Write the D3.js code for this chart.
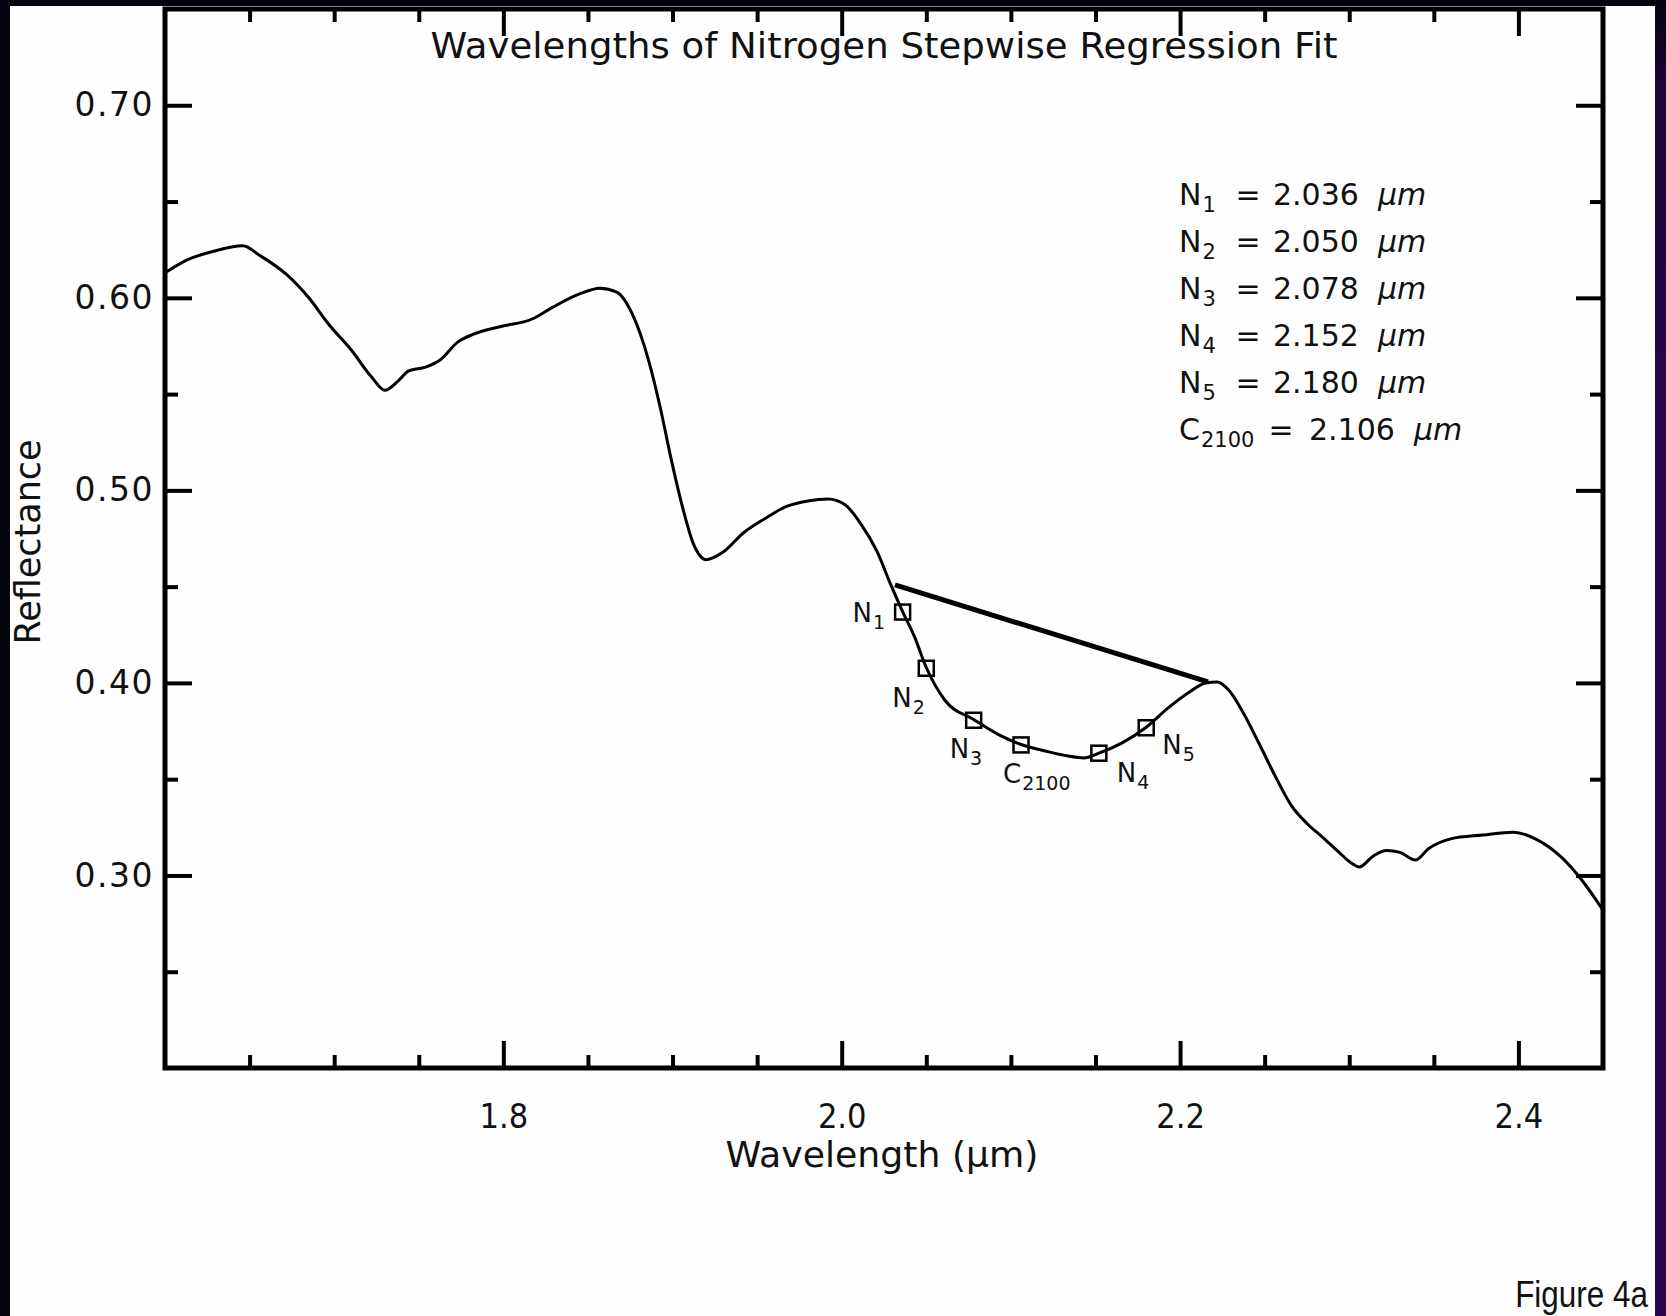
<!DOCTYPE html>
<html>
<head>
<meta charset="utf-8">
<script src="https://cdn.jsdelivr.net/npm/d3@7"></script>
<style>
    body { margin: 0; background: #04040e; }
    svg { display: block; }
    .axis path { display: none; }
    .axis line { stroke: #000; stroke-width: 4; }
    .axis text { fill: #111; }
</style>
</head>
<body>
<div id="chart"></div>
<script>
/*
 *  Spectrum
 */
const wavelength = [
    1.600, 1.6125, 1.628, 1.646, 1.656, 1.672, 1.685, 1.697, 1.710, 1.722,
    1.730, 1.738, 1.744, 1.754, 1.763, 1.773, 1.782, 1.798, 1.817, 1.829,
    1.845, 1.857, 1.867, 1.876, 1.886, 1.893, 1.899, 1.906, 1.912, 1.920,
    1.930, 1.942, 1.955, 1.967, 1.980, 1.992, 2.002, 2.011, 2.021, 2.029,
    2.036, 2.043, 2.050, 2.061, 2.078, 2.093, 2.106, 2.121, 2.134, 2.143,
    2.152, 2.166, 2.180, 2.193, 2.206, 2.215, 2.222, 2.229, 2.237, 2.247,
    2.256, 2.266, 2.275, 2.284, 2.294, 2.301, 2.306, 2.314, 2.322, 2.330,
    2.339, 2.347, 2.360, 2.379, 2.397, 2.410, 2.426, 2.438, 2.450
];
const reflectance = [
    0.613, 0.6195, 0.624, 0.627, 0.622, 0.612, 0.600, 0.586, 0.573, 0.559,
    0.552, 0.557, 0.562, 0.564, 0.568, 0.577, 0.581, 0.585, 0.589, 0.595,
    0.602, 0.605, 0.603, 0.592, 0.567, 0.542, 0.517, 0.491, 0.473, 0.464,
    0.468, 0.478, 0.4855, 0.4915, 0.4945, 0.4955, 0.4925, 0.483, 0.468, 0.451,
    0.437, 0.424, 0.408, 0.391, 0.381, 0.373, 0.368, 0.3645, 0.362, 0.361,
    0.3635, 0.369, 0.377, 0.387, 0.3955, 0.400, 0.4005, 0.396, 0.385, 0.368,
    0.352, 0.336, 0.327, 0.320, 0.312, 0.3066, 0.3044, 0.310, 0.313, 0.312,
    0.308, 0.314, 0.319, 0.321, 0.3225, 0.319, 0.309, 0.297, 0.282
];

// Continuum line between the two shoulders
const hullWavelength = [2.0315, 2.2165];
const hullReflectance = [0.4509, 0.4005];

// Selected wavelengths (squares)
const markerBase = ['N', 'N', 'N', 'C', 'N', 'N'];
const markerSub = ['1', '2', '3', '2100', '4', '5'];
const markerWavelength = [2.036, 2.050, 2.078, 2.106, 2.152, 2.180];
const markerReflectance = [0.4368, 0.4076, 0.3806, 0.3678, 0.3635, 0.3767];

// Legend order
const legendOrder = [0, 1, 2, 4, 5, 3];

// Axis ticks
const xMajorTicks = [1.8, 2.0, 2.2, 2.4];
const xMinorTicks = [1.65, 1.70, 1.75, 1.85, 1.90, 1.95, 2.05, 2.10, 2.15, 2.25, 2.30, 2.35];
const yMajorTicks = [0.30, 0.40, 0.50, 0.60, 0.70];
const yMinorTicks = [0.25, 0.35, 0.45, 0.55, 0.65];

/*
 *  Draw chart
 */
const width = 1666;
const height = 1316;
const plot = { left: 165, right: 1603, top: 9, bottom: 1068 };

const condensed = '"DejaVu Sans Condensed", "DejaVu Sans", sans-serif';
const round = '"DejaVu Sans", sans-serif';

const svg = d3.select('#chart').append('svg')
    .attr('width', width)
    .attr('height', height);

// Background: dark screen, white page, purple strip at the right
const defs = svg.append('defs');
const grad = defs.append('linearGradient')
    .attr('id', 'strip')
    .attr('x1', 0).attr('y1', 0).attr('x2', 0).attr('y2', 1);
grad.append('stop').attr('offset', '0%').attr('stop-color', '#05030f');
grad.append('stop').attr('offset', '6%').attr('stop-color', '#1a0535');
grad.append('stop').attr('offset', '30%').attr('stop-color', '#26064c');
grad.append('stop').attr('offset', '100%').attr('stop-color', '#27064e');

defs.append('clipPath').attr('id', 'plotClip')
    .append('rect')
    .attr('x', plot.left).attr('y', plot.top)
    .attr('width', plot.right - plot.left)
    .attr('height', plot.bottom - plot.top);

svg.append('rect')
    .attr('width', width).attr('height', height)
    .attr('fill', '#04040e');
svg.append('rect')
    .attr('x', 1655).attr('y', 0)
    .attr('width', 11).attr('height', height)
    .attr('fill', 'url(#strip)');
svg.append('rect')
    .attr('x', 10).attr('y', 6)
    .attr('width', 1645).attr('height', height - 6)
    .attr('fill', '#fefefe');

// Scales
const xScale = d3.scaleLinear()
    .domain([1.6, 2.45])
    .range([plot.left, plot.right]);

const yScale = d3.scaleLinear()
    .domain([0.20, 0.75])
    .range([plot.bottom, plot.top]);

// Axes: major and minor ticks on all four sides, pointing inwards
svg.append('g')
    .attr('class', 'axis x-axis')
    .attr('transform', `translate(0,${plot.bottom})`)
    .call(d3.axisBottom(xScale).tickValues(xMajorTicks)
        .tickSizeInner(-27).tickSizeOuter(0).tickPadding(36)
        .tickFormat(d3.format('.1f')))
    .call(g => g.selectAll('text')
        .attr('font-family', condensed)
        .attr('font-size', 34));

svg.append('g')
    .attr('class', 'axis')
    .attr('transform', `translate(0,${plot.bottom})`)
    .call(d3.axisBottom(xScale).tickValues(xMinorTicks)
        .tickSizeInner(-13).tickSizeOuter(0).tickFormat(''));

svg.append('g')
    .attr('class', 'axis')
    .attr('transform', `translate(0,${plot.top})`)
    .call(d3.axisTop(xScale).tickValues(xMajorTicks)
        .tickSizeInner(-27).tickSizeOuter(0).tickFormat(''));

svg.append('g')
    .attr('class', 'axis')
    .attr('transform', `translate(0,${plot.top})`)
    .call(d3.axisTop(xScale).tickValues(xMinorTicks)
        .tickSizeInner(-13).tickSizeOuter(0).tickFormat(''));

svg.append('g')
    .attr('class', 'axis y-axis')
    .attr('transform', `translate(${plot.left},0)`)
    .call(d3.axisLeft(yScale).tickValues(yMajorTicks)
        .tickSizeInner(-27).tickSizeOuter(0).tickPadding(11)
        .tickFormat(d3.format('.2f')))
    .call(g => g.selectAll('text')
        .attr('font-family', round)
        .attr('font-size', 33)
        .attr('letter-spacing', 1.5));

svg.append('g')
    .attr('class', 'axis')
    .attr('transform', `translate(${plot.left},0)`)
    .call(d3.axisLeft(yScale).tickValues(yMinorTicks)
        .tickSizeInner(-13).tickSizeOuter(0).tickFormat(''));

svg.append('g')
    .attr('class', 'axis')
    .attr('transform', `translate(${plot.right},0)`)
    .call(d3.axisRight(yScale).tickValues(yMajorTicks)
        .tickSizeInner(-27).tickSizeOuter(0).tickFormat(''));

svg.append('g')
    .attr('class', 'axis')
    .attr('transform', `translate(${plot.right},0)`)
    .call(d3.axisRight(yScale).tickValues(yMinorTicks)
        .tickSizeInner(-13).tickSizeOuter(0).tickFormat(''));

// Spectrum
const spectrum = wavelength.map((w, i) => ({ w: w, r: reflectance[i] }));

const line = d3.line()
    .x(d => xScale(d.w))
    .y(d => yScale(d.r))
    .curve(d3.curveMonotoneX);

svg.append('path')
    .datum(spectrum)
    .attr('clip-path', 'url(#plotClip)')
    .attr('fill', 'none')
    .attr('stroke', '#000')
    .attr('stroke-width', 3)
    .attr('stroke-linejoin', 'round')
    .attr('d', line);

// Continuum line
svg.append('path')
    .datum(hullWavelength.map((w, i) => ({ w: w, r: hullReflectance[i] })))
    .attr('fill', 'none')
    .attr('stroke', '#000')
    .attr('stroke-width', 5)
    .attr('d', d3.line().x(d => xScale(d.w)).y(d => yScale(d.r)));

// Frame
svg.append('rect')
    .attr('x', plot.left).attr('y', plot.top)
    .attr('width', plot.right - plot.left)
    .attr('height', plot.bottom - plot.top)
    .attr('fill', 'none')
    .attr('stroke', '#000')
    .attr('stroke-width', 5);

// Markers
const markers = markerWavelength.map((w, i) => ({
    w: w, r: markerReflectance[i], base: markerBase[i], sub: markerSub[i]
}));
const markerSize = 15;

svg.selectAll('rect.marker')
    .data(markers)
    .enter()
    .append('rect')
    .attr('class', 'marker')
    .attr('x', d => xScale(d.w) - markerSize / 2)
    .attr('y', d => yScale(d.r) - markerSize / 2)
    .attr('width', markerSize)
    .attr('height', markerSize)
    .attr('fill', 'none')
    .attr('stroke', '#000')
    .attr('stroke-width', 2.5);

// Marker labels, offset from each square
const labelOffsets = [[-50, 10], [-34, 39], [-24, 38], [-18, 38], [18, 29], [16, 26]];

const labels = svg.selectAll('text.mlabel')
    .data(markers)
    .enter()
    .append('text')
    .attr('class', 'mlabel')
    .attr('x', (d, i) => xScale(d.w) + labelOffsets[i][0])
    .attr('y', (d, i) => yScale(d.r) + labelOffsets[i][1])
    .attr('font-family', round)
    .attr('font-size', 26)
    .attr('fill', '#111');
labels.append('tspan').text(d => d.base);
labels.append('tspan')
    .attr('dy', 7)
    .attr('dx', 1)
    .attr('font-size', 19)
    .text(d => d.sub);

// Legend of selected wavelengths
const legendRows = legendOrder.map((k, j) => ({ m: markers[k], y: 205 + j * 47 }));
const legend = svg.append('g')
    .attr('font-family', round)
    .attr('font-size', 30)
    .attr('fill', '#111');

const names = legend.selectAll('text.name')
    .data(legendRows)
    .enter()
    .append('text')
    .attr('class', 'name')
    .attr('x', 1179)
    .attr('y', d => d.y);
names.append('tspan').text(d => d.m.base);
names.append('tspan')
    .attr('dy', 7)
    .attr('dx', 1)
    .attr('font-size', 21)
    .text(d => d.m.sub);

legend.selectAll('text.eq')
    .data(legendRows)
    .enter()
    .append('text')
    .attr('class', 'eq')
    .attr('x', d => d.m.sub.length > 1 ? 1281 : 1248)
    .attr('y', d => d.y)
    .attr('text-anchor', 'middle')
    .text('=');

const vals = legend.selectAll('text.val')
    .data(legendRows)
    .enter()
    .append('text')
    .attr('class', 'val')
    .attr('x', d => d.m.sub.length > 1 ? 1309 : 1273)
    .attr('y', d => d.y);
vals.append('tspan').text(d => d3.format('.3f')(d.m.w));
vals.append('tspan')
    .attr('dx', 19)
    .attr('font-style', 'italic')
    .text('μm');

// Titles
svg.append('text')
    .attr('x', 884)
    .attr('y', 58)
    .attr('text-anchor', 'middle')
    .attr('font-family', round)
    .attr('font-size', 35)
    .attr('textLength', 907)
    .attr('lengthAdjust', 'spacingAndGlyphs')
    .attr('fill', '#111')
    .text('Wavelengths of Nitrogen Stepwise Regression Fit');

svg.append('text')
    .attr('x', 882)
    .attr('y', 1167)
    .attr('text-anchor', 'middle')
    .attr('font-family', round)
    .attr('font-size', 35)
    .attr('textLength', 313)
    .attr('lengthAdjust', 'spacingAndGlyphs')
    .attr('fill', '#111')
    .text('Wavelength (μm)');

svg.append('text')
    .attr('transform', 'translate(40,542) rotate(-90)')
    .attr('text-anchor', 'middle')
    .attr('font-family', round)
    .attr('font-size', 35)
    .attr('fill', '#111')
    .text('Reflectance');

svg.append('text')
    .attr('transform', 'translate(1648,1307) scale(0.85,1)')
    .attr('text-anchor', 'end')
    .attr('font-family', '"Liberation Sans", sans-serif')
    .attr('font-size', 37)
    .attr('fill', '#111')
    .text('Figure 4a');
</script>
</body>
</html>
